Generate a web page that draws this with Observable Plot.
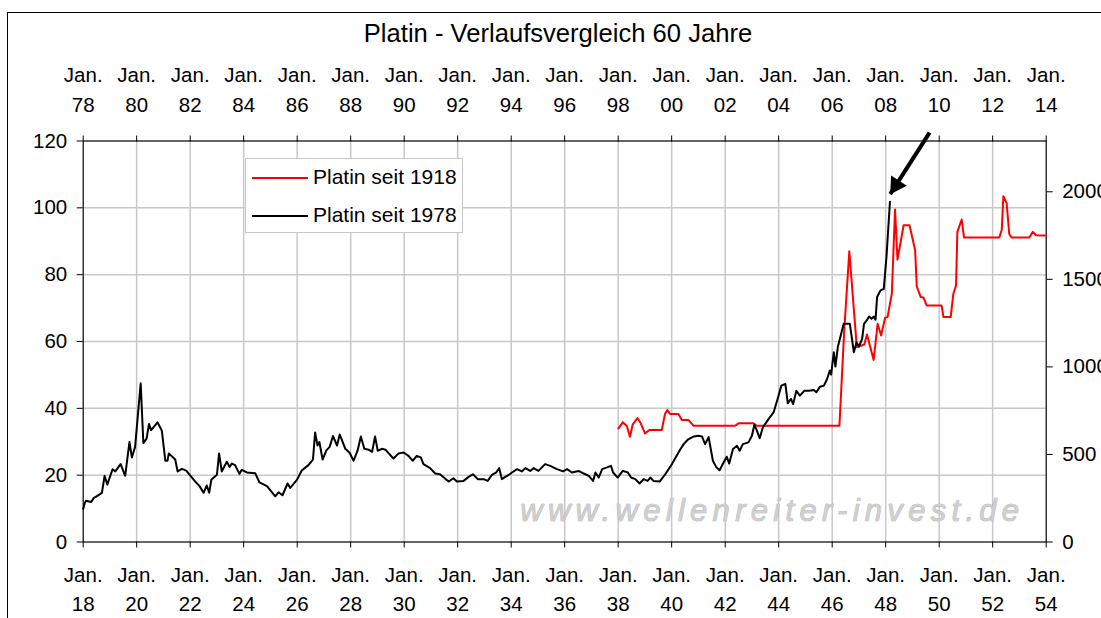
<!DOCTYPE html>
<html>
<head>
<meta charset="utf-8">
<script src="https://cdn.jsdelivr.net/npm/d3@7"></script>
<script src="https://cdn.jsdelivr.net/npm/@observablehq/plot@0.6"></script>
<style>
  html, body { margin: 0; padding: 0; background: #fff; overflow: hidden; }
  body { font-family: "Liberation Sans", Arial, sans-serif; color: #000; }
  #wrap { position: relative; width: 1101px; height: 618px; overflow: hidden; }
  #title { position: absolute; left: 0; top: 18px; width: 1116px; text-align: center; font-size: 25.6px; line-height: 30px; white-space: nowrap; }
  #chart { position: absolute; left: 0; top: 46px; }
  #legend { position: absolute; left: 245px; top: 158px; width: 218px; height: 75px; border: 1px solid #c8c8c8; background: #fff; box-sizing: border-box; font-size: 21px; }
  #legend .sw { position: absolute; left: 6px; width: 56px; height: 2px; }
  #legend .lb { position: absolute; left: 67px; line-height: 24px; white-space: nowrap; }
  #frame { position: absolute; left: 7px; top: 12px; width: 1300px; height: 800px; border: 1px solid #000; box-sizing: border-box; pointer-events: none; }
</style>
</head>
<body>
<div id="wrap">
  <div id="title">Platin - Verlaufsvergleich 60 Jahre</div>
  <div id="chart"></div>
  <div id="legend">
    <div class="sw" style="top:18px;background:#ff0000"></div>
    <div class="lb" style="top:6px">Platin seit 1918</div>
    <div class="sw" style="top:56px;background:#000"></div>
    <div class="lb" style="top:44px">Platin seit 1978</div>
  </div>
  <div id="frame"></div>
</div>
<script>
// ---- Data ----
// Platinum since 1978 (USD, right axis), decimal years
const blackYears = [1978.00,1978.05,1978.10,1978.30,1978.40,1978.50,1978.70,1978.80,1978.90,1979.10,1979.20,1979.40,1979.57,1979.73,1979.82,1979.94,1980.15,1980.25,1980.37,1980.46,1980.54,1980.78,1980.94,1981.07,1981.15,1981.20,1981.44,1981.53,1981.69,1981.85,1982.19,1982.35,1982.50,1982.62,1982.71,1982.79,1983.00,1983.08,1983.18,1983.37,1983.47,1983.56,1983.68,1983.84,1983.93,1984.12,1984.43,1984.59,1984.87,1985.18,1985.30,1985.45,1985.64,1985.74,1985.99,1986.17,1986.42,1986.59,1986.67,1986.76,1986.83,1986.95,1987.09,1987.21,1987.34,1987.49,1987.59,1987.80,1987.96,1988.11,1988.26,1988.38,1988.51,1988.67,1988.80,1988.91,1989.01,1989.17,1989.30,1989.42,1989.60,1989.79,1989.98,1990.16,1990.32,1990.47,1990.62,1990.72,1990.97,1991.16,1991.34,1991.66,1991.84,1991.97,1992.22,1992.41,1992.57,1992.75,1992.97,1993.12,1993.28,1993.44,1993.55,1993.65,1993.78,1993.94,1994.03,1994.22,1994.40,1994.53,1994.71,1994.84,1995.02,1995.15,1995.27,1995.46,1995.71,1995.94,1996.09,1996.27,1996.52,1996.71,1996.90,1997.06,1997.15,1997.27,1997.40,1997.58,1997.73,1997.81,1997.98,1998.17,1998.36,1998.48,1998.64,1998.80,1998.95,1999.10,1999.20,1999.32,1999.55,1999.76,2000.01,2000.33,2000.45,2000.60,2000.83,2001.00,2001.13,2001.25,2001.38,2001.54,2001.66,2001.79,2001.94,2002.06,2002.15,2002.29,2002.44,2002.54,2002.66,2002.87,2003.00,2003.09,2003.19,2003.29,2003.41,2003.62,2003.81,2003.96,2004.10,2004.25,2004.34,2004.46,2004.54,2004.66,2004.79,2004.96,2005.13,2005.31,2005.41,2005.54,2005.69,2005.81,2005.91,2005.96,2006.06,2006.12,2006.21,2006.31,2006.43,2006.66,2006.81,2006.91,2007.00,2007.12,2007.19,2007.29,2007.38,2007.47,2007.56,2007.62,2007.68,2007.81,2007.93,2008.03,2008.16];
const blackValues = [189,219,235,229,252,261,281,378,328,416,403,445,378,571,483,542,906,565,590,674,639,683,635,464,464,506,471,403,418,408,345,319,281,323,281,355,384,506,403,458,429,448,439,389,412,397,393,340,319,261,284,267,334,309,355,408,439,471,626,551,571,471,523,542,605,551,614,532,510,464,523,603,532,527,515,603,521,532,527,506,477,506,511,492,464,492,483,445,422,391,387,345,364,345,349,372,387,359,359,349,384,397,422,359,372,387,397,416,403,422,406,422,406,426,445,435,416,403,416,397,406,391,378,349,397,368,416,426,435,397,368,406,397,368,359,334,359,349,368,349,345,387,445,531,559,584,603,607,603,559,599,464,429,410,454,487,448,531,550,521,559,569,607,670,635,593,655,702,740,817,893,903,792,817,788,864,836,864,864,868,855,887,893,931,979,956,1084,1002,1113,1174,1246,1246,1084,1141,1116,1160,1246,1265,1288,1275,1288,1269,1399,1437,1446,1628,1943];

// Platinum since 1918 (USD, left axis), decimal years
const redYears = [1938.01,1938.17,1938.32,1938.44,1938.54,1938.72,1938.84,1939.00,1939.17,1939.63,1939.75,1939.84,1939.94,1940.25,1940.38,1940.63,1940.81,1942.37,1942.50,1943.06,1943.18,1946.27,1946.45,1946.64,1946.92,1947.20,1947.30,1947.55,1947.70,1947.83,1947.98,1948.07,1948.23,1948.35,1948.44,1948.67,1948.89,1949.10,1949.16,1949.31,1949.41,1949.53,1950.09,1950.16,1950.43,1950.53,1950.63,1950.68,1950.84,1950.93,1952.25,1952.34,1952.40,1952.52,1952.62,1952.71,1953.37,1953.50,1953.62,1954.00];
const redValues = [34.0,35.8,34.8,31.5,35.1,37.1,35.6,32.5,33.5,33.5,38.3,39.5,38.3,38.3,36.5,36.5,34.8,34.8,35.5,35.5,34.8,34.8,63.3,87.0,58.3,59.1,62.1,54.5,65.3,61.8,67.1,67.3,74.3,99.5,84.5,94.8,94.8,87.3,76.5,73.3,73.2,70.8,70.8,67.3,67.3,74.3,76.8,92.8,96.5,91.1,91.1,93.5,103.5,101.5,92.1,91.1,91.1,92.8,91.8,91.7];

// Axes
const tickYears = [1978,1980,1982,1984,1986,1988,1990,1992,1994,1996,1998,2000,2002,2004,2006,2008,2010,2012,2014];
const topTickLabels = ["78","80","82","84","86","88","90","92","94","96","98","00","02","04","06","08","10","12","14"];
const bottomTickLabels = ["18","20","22","24","26","28","30","32","34","36","38","40","42","44","46","48","50","52","54"];
const leftTicks = [0,20,40,60,80,100,120];
const leftGrid = [20,40,60,80,100];
const rightTicks = [0,500,1000,1500,2000];
const LEFT_MAX = 120, RIGHT_MAX = 2290;

// Arrow annotation (black-series time, left-axis units)
const arrowStartYear = 2009.64, arrowStartValue = 122.5;
const arrowTipYear = 2008.17, arrowTipValue = 104.1;

const watermark = "www.wellenreiter-invest.de";

// ---- Build ----
const yd = y => { const Y = Math.floor(y); const a = Date.UTC(Y,0,1), b = Date.UTC(Y+1,0,1); return new Date(a + (y - Y) * (b - a)); };
const toLeft = v => v * LEFT_MAX / RIGHT_MAX;
const blackData = blackYears.map((y, i) => ({date: yd(y), value: toLeft(blackValues[i])}));
const redData = redYears.map((y, i) => ({date: yd(y + 60), value: redValues[i]}));
const tickDates = tickYears.map(y => new Date(Date.UTC(y, 0, 1)));
const topLab = new Map(tickDates.map((d, i) => [+d, "Jan.\n" + topTickLabels[i]]));
const botLab = new Map(tickDates.map((d, i) => [+d, "Jan.\n" + bottomTickLabels[i]]));
const arrow = [{x1: yd(arrowStartYear), y1: arrowStartValue, x2: yd(arrowTipYear), y2: arrowTipValue}];

const plot = Plot.plot({
  width: 1101,
  height: 572,
  marginTop: 94.5,
  marginBottom: 76.5,
  marginLeft: 82.7,
  marginRight: 55.3,
  style: {fontFamily: "Liberation Sans, Arial, sans-serif", fontSize: "20.5px", color: "#000", background: "none"},
  x: {type: "utc", domain: [tickDates[0], tickDates[tickDates.length - 1]]},
  y: {domain: [0, LEFT_MAX]},
  marks: [
    Plot.ruleX(tickDates.slice(1, -1), {stroke: "#c8c8c8", strokeWidth: 1.5}),
    Plot.ruleY(leftGrid, {stroke: "#c8c8c8", strokeWidth: 1.5}),
    Plot.text([watermark], {frameAnchor: "bottom-left", dx: 437, dy: -21, textAnchor: "start", lineAnchor: "bottom",
      fontSize: 31, fontStyle: "italic", fill: "#cfcfcf", stroke: "#aaaaaa", strokeWidth: 0.7}),
    Plot.frame({stroke: "#000", strokeWidth: 1.2}),
    Plot.axisX({anchor: "top", ticks: tickDates, tickFormat: d => topLab.get(+d), tickSize: 6, tickPadding: 23.5, lineHeight: 1.43, label: null}),
    Plot.axisX({anchor: "bottom", ticks: tickDates, tickFormat: d => botLab.get(+d), tickSize: 6, tickPadding: 13, lineHeight: 1.43, label: null}),
    Plot.axisY({anchor: "left", ticks: leftTicks, tickSize: 6, tickPadding: 10, label: null}),
    Plot.axisY({anchor: "right", ticks: rightTicks.map(toLeft), tickFormat: d => String(Math.round(d * RIGHT_MAX / LEFT_MAX)), tickSize: 6, tickPadding: 10, label: null}),
    Plot.line(redData, {x: "date", y: "value", stroke: "#ff0000", strokeWidth: 2}),
    Plot.line(blackData, {x: "date", y: "value", stroke: "#000", strokeWidth: 2}),
    Plot.link(arrow, {x1: "x1", y1: "y1", x2: "x2", y2: "y2", stroke: "#000", strokeWidth: 4}),
    Plot.dot(arrow, {x: "x2", y: "y2", symbol: "triangle", r: 6.9, fill: "#000", stroke: "none", rotate: 212.7, dx: 5.8, dy: -9})
  ]
});
document.getElementById("chart").appendChild(plot);
d3.select(plot).selectAll("text").filter(function () { return this.textContent === watermark; })
  .style("letter-spacing", "5.3px");
</script>
</body>
</html>
